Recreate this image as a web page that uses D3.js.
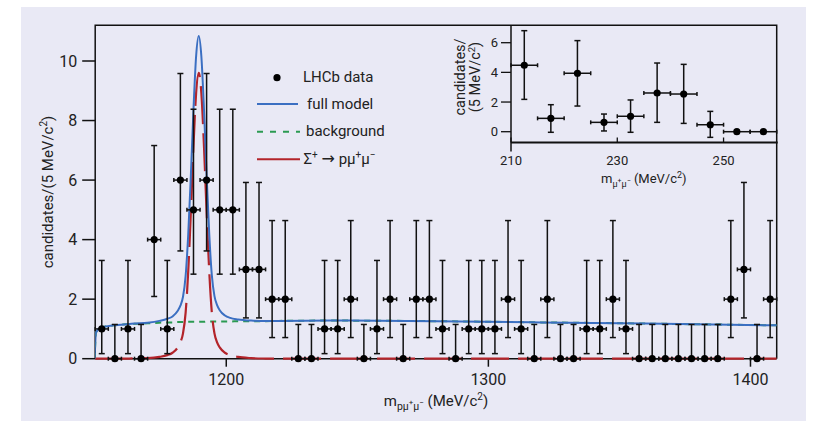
<!DOCTYPE html>
<html><head><meta charset="utf-8">
<script src="https://cdn.jsdelivr.net/npm/d3@7"></script>
<style>
body{margin:0;background:#fff;}
svg{display:block;}
text{font-family:Roboto,"Liberation Sans",Arial,sans-serif;fill:#222;}
</style>
</head><body>
<svg id="chart" width="835" height="421"></svg>
<script>
// ---------- DATA ----------
const binCentres = [1152.5,1157.5,1162.5,1167.5,1172.5,1177.5,1182.5,1187.5,1192.5,1197.5,
  1202.5,1207.5,1212.5,1217.5,1222.5,1227.5,1232.5,1237.5,1242.5,1247.5,
  1252.5,1257.5,1262.5,1267.5,1272.5,1277.5,1282.5,1287.5,1292.5,1297.5,
  1302.5,1307.5,1312.5,1317.5,1322.5,1327.5,1332.5,1337.5,1342.5,1347.5,
  1352.5,1357.5,1362.5,1367.5,1372.5,1377.5,1382.5,1387.5,1392.5,1397.5,
  1402.5,1407.5];
const counts = [1,0,1,0,4,1,6,5,6,5,
  5,3,3,2,2,0,0,1,1,2,
  0,1,2,0,2,2,1,0,1,1,
  1,2,1,0,2,0,0,1,1,2,
  1,0,0,0,0,0,0,0,2,3,
  0,2];
const binHalfWidth = 2.5;
// Poisson interval (down / up) by observed count
const poissonDown = [0, 0.83, 1.29, 1.63, 1.91, 2.16, 2.38];
const poissonUp   = [1.15, 2.30, 2.64, 2.92, 3.16, 3.38, 3.58];

const modelMass = [1149.8,1150.3,1152,1157,1163,1165,1170,1174.5,1177.5,1179.5,
  1181.5,1182.5,1183.5,1184.5,1185.5,1186.5,1187.5,1188.5,1189.5,1190.5,
  1191.5,1192.5,1193.5,1194.5,1195.5,1196.5,1197.5,1199.5,1201.5,1204.5,
  1209.5,1215,1220,1240,1280,1320,1360,1410];
const backgroundModel = [0,0.88,1.04,1.12,1.16,1.17,1.19,1.21,1.22,1.22,
  1.23,1.23,1.23,1.23,1.24,1.24,1.24,1.24,1.24,1.24,
  1.24,1.25,1.25,1.25,1.25,1.25,1.25,1.25,1.25,1.26,
  1.26,1.26,1.27,1.28,1.26,1.22,1.18,1.12];
const signalModel = [0,0,0,0,0.005,0.01,0.02,0.06,0.12,0.2,
  0.38,0.55,0.85,1.55,2.95,4.93,7.14,8.92,9.6,8.92,
  7.14,4.93,2.95,1.55,0.85,0.55,0.38,0.2,0.12,0.06,
  0.02,0.005,0,0,0,0,0,0];

const mainXTicks = [1200,1300,1400];
const mainYTicks = [0,2,4,6,8,10];

const insetCentres = [212.5,217.5,222.5,227.5,232.5,237.5,242.5,247.5,252.5,257.5];
const insetValues = [4.48,0.90,3.94,0.63,1.04,2.61,2.54,0.47,0,0];
const insetLow    = [2.18,-0.04,1.73,0.05,-0.04,0.63,0.56,-0.38,0,0];
const insetHigh   = [6.81,1.82,6.14,1.19,2.14,4.63,4.54,1.37,0,0];
const insetXTicks = [210,230,250];
const insetYTicks = [0,2,4,6];

const legendLabels = ["LHCb data","full model","background"];

// ---------- LAYOUT ----------
const svg = d3.select("#chart");
svg.append("rect").attr("x",21).attr("y",7).attr("width",785).attr("height",414).attr("fill","#e9e9f5");

const L = 95.2, R = 776.7, T = 25.3, B = 358.7;
const x = d3.scaleLinear().domain([1150,1410]).range([L, R]);
const y = d3.scaleLinear().domain([0,10]).range([B, 61]);

const colBlue = "#3b6fc2", colRed = "#b3242a", colGreen = "#2b9a52", ink = "#111";

function rich(sel, parts){
  let cur = 0;
  parts.forEach(p=>{
    const t = p.dy||0;
    const ts = sel.append("tspan").attr("dy", t-cur).attr("font-size", p.size).text(p.t);
    if (p.family) ts.attr("font-family", p.family);
    cur = t;
  });
}

// clip
svg.append("clipPath").attr("id","mainclip").append("rect")
  .attr("x",L).attr("y",T).attr("width",R-L).attr("height",B-T+2);

// ---------- FRAME & AXES ----------
const frame = svg.append("g").attr("stroke",ink).attr("stroke-width",1.5).attr("fill","none");
frame.append("path").attr("d",`M${L},${B}V${T}H${R}V${B}`);
frame.append("line").attr("x1",L).attr("x2",R).attr("y1",B).attr("y2",B);

const yAxis = svg.append("g");
mainYTicks.forEach(v=>{
  yAxis.append("line").attr("x1",L-13).attr("x2",L).attr("y1",y(v)).attr("y2",y(v)).attr("stroke",ink).attr("stroke-width",1.5);
  yAxis.append("text").attr("x",L-18).attr("y",y(v)).attr("dy","0.36em").attr("text-anchor","end")
    .attr("font-size",16).attr("fill","#333").text(v);
});
const xAxis = svg.append("g");
mainXTicks.forEach(v=>{
  xAxis.append("line").attr("x1",x(v)).attr("x2",x(v)).attr("y1",B).attr("y2",B+8).attr("stroke",ink).attr("stroke-width",1.5);
  xAxis.append("text").attr("x",x(v)).attr("y",385).attr("text-anchor","middle")
    .attr("font-size",16).attr("fill","#333").text(v);
});

// axis titles
rich(svg.append("text").attr("text-anchor","middle").attr("x",(L+R)/2).attr("y",406),
 [{t:"m",size:15},{t:"pμ",dy:4,size:10.5},{t:"+",dy:-1,size:8},{t:"μ",dy:4,size:10.5},{t:"−",dy:-1,size:8},
  {t:" (MeV/c",dy:0,size:15},{t:"2",dy:-6,size:10},{t:")",dy:0,size:15}]);
rich(svg.append("text").attr("text-anchor","middle").attr("transform",`translate(53,${(T+B)/2}) rotate(-90)`),
 [{t:"candidates/(5 MeV/c",size:15},{t:"2",dy:-6,size:10},{t:")",dy:0,size:15}]);

// ---------- CURVES ----------
const modelPts = modelMass.map((m,i)=>({m, bg:backgroundModel[i], sig:signalModel[i]}));
const curve = d3.curveMonotoneX;
const gCurves = svg.append("g").attr("clip-path","url(#mainclip)");
gCurves.append("path").attr("d", d3.line().curve(curve).x(d=>x(d.m)).y(d=>y(d.bg))(modelPts))
  .attr("fill","none").attr("stroke",colGreen).attr("stroke-width",2).attr("stroke-dasharray","6,5");
gCurves.append("path").attr("d", d3.line().curve(curve).x(d=>x(d.m)).y(d=>y(d.sig))(modelPts))
  .attr("fill","none").attr("stroke",colRed).attr("stroke-width",2.2).attr("stroke-dasharray","38,9");
gCurves.append("path").attr("d", d3.line().curve(curve).x(d=>x(d.m)).y(d=>y(d.bg+d.sig))(modelPts))
  .attr("fill","none").attr("stroke",colBlue).attr("stroke-width",2);

// ---------- DATA POINTS ----------
function drawPoints(g, xs, ys, lo, hi, sx, sy, hw, r){
  xs.forEach((m,i)=>{
    const cx = sx(m), cy = sy(ys[i]);
    const gg = g.append("g").attr("stroke",ink).attr("stroke-width",1.5);
    if (hi[i] !== lo[i]) {
      gg.append("line").attr("x1",cx).attr("x2",cx).attr("y1",sy(lo[i])).attr("y2",sy(hi[i]));
      gg.append("line").attr("x1",cx-3).attr("x2",cx+3).attr("y1",sy(hi[i])).attr("y2",sy(hi[i]));
      if (lo[i] !== ys[i])
        gg.append("line").attr("x1",cx-3).attr("x2",cx+3).attr("y1",sy(lo[i])).attr("y2",sy(lo[i]));
    }
    const x0 = sx(m-hw), x1 = sx(m+hw);
    gg.append("line").attr("x1",x0).attr("x2",x1).attr("y1",cy).attr("y2",cy);
    gg.append("line").attr("x1",x0).attr("x2",x0).attr("y1",cy-2).attr("y2",cy+2);
    gg.append("line").attr("x1",x1).attr("x2",x1).attr("y1",cy-2).attr("y2",cy+2);
    g.append("circle").attr("cx",cx).attr("cy",cy).attr("r",r).attr("fill","#000");
  });
}
const mainLo = counts.map(c=>c-poissonDown[c]);
const mainHi = counts.map(c=>c+poissonUp[c]);
drawPoints(svg.append("g"), binCentres, counts, mainLo, mainHi, x, y, binHalfWidth, 3.6);

// ---------- LEGEND ----------
const lg = svg.append("g");
lg.append("circle").attr("cx",277).attr("cy",77.7).attr("r",3.6).attr("fill","#000");
lg.append("text").attr("x",303).attr("y",81.5).attr("font-size",15).text(legendLabels[0]);
lg.append("line").attr("x1",257).attr("x2",298).attr("y1",104).attr("y2",104).attr("stroke",colBlue).attr("stroke-width",2);
lg.append("text").attr("x",307).attr("y",108.5).attr("font-size",15).text(legendLabels[1]);
lg.append("line").attr("x1",257).attr("x2",300).attr("y1",131.7).attr("y2",131.7).attr("stroke",colGreen).attr("stroke-width",2).attr("stroke-dasharray","6,7");
lg.append("text").attr("x",306).attr("y",136).attr("font-size",15).text(legendLabels[2]);
lg.append("line").attr("x1",257).attr("x2",300).attr("y1",159.3).attr("y2",159.3).attr("stroke",colRed).attr("stroke-width",2);
rich(lg.append("text").attr("x",303.5).attr("y",164),
 [{t:"Σ",size:15},{t:"+",dy:-6,size:10},{t:" ",dy:0,size:15},{t:"→",dy:0,size:16,family:"DejaVu Sans"},{t:" pμ",dy:0,size:15},
  {t:"+",dy:-6,size:10},{t:"μ",dy:0,size:15},{t:"−",dy:-6,size:10}]);

// ---------- INSET ----------
const iL = 511, iR = R, iT = T, iB = 142.5;
const ix = d3.scaleLinear().domain([210,260]).range([iL, iR]);
const iy = d3.scaleLinear().domain([0,6]).range([131.7, 42.7]);
const ig = svg.append("g");
ig.append("line").attr("x1",iL).attr("x2",iL).attr("y1",iT).attr("y2",iB+9).attr("stroke",ink).attr("stroke-width",1.5);
ig.append("line").attr("x1",iL).attr("x2",iR+1).attr("y1",iB).attr("y2",iB).attr("stroke",ink).attr("stroke-width",2.2);
insetYTicks.forEach(v=>{
  ig.append("line").attr("x1",iL-10).attr("x2",iL).attr("y1",iy(v)).attr("y2",iy(v)).attr("stroke",ink).attr("stroke-width",1.3);
  ig.append("text").attr("x",iL-13).attr("y",iy(v)).attr("dy","0.36em").attr("text-anchor","end")
    .attr("font-size",13).attr("fill","#333").text(v);
});
insetXTicks.forEach(v=>{
  ig.append("line").attr("x1",ix(v)).attr("x2",ix(v)).attr("y1",iB-5).attr("y2",iB).attr("stroke",ink).attr("stroke-width",1.3);
  ig.append("text").attr("x",ix(v)).attr("y",165).attr("text-anchor","middle")
    .attr("font-size",13).attr("fill","#333").text(v);
});
rich(ig.append("text").attr("text-anchor","middle").attr("x",(iL+iR)/2).attr("y",183),
 [{t:"m",size:13},{t:"μ",dy:3.5,size:9},{t:"+",dy:-0.5,size:7},{t:"μ",dy:3.5,size:9},{t:"−",dy:-0.5,size:7},
  {t:" (MeV/c",dy:0,size:13},{t:"2",dy:-5,size:9},{t:")",dy:0,size:13}]);
ig.append("text").attr("text-anchor","middle").attr("transform",`translate(465,77) rotate(-90)`)
  .attr("font-size",14.5).text("candidates/");
rich(ig.append("text").attr("text-anchor","middle").attr("transform",`translate(480,77) rotate(-90)`),
 [{t:"(5 MeV/c",size:14.5},{t:"2",dy:-5.5,size:9.5},{t:")",dy:0,size:14.5}]);
drawPoints(ig.append("g"), insetCentres, insetValues, insetLow, insetHigh, ix, iy, binHalfWidth, 3.6);
</script>
</body></html>
